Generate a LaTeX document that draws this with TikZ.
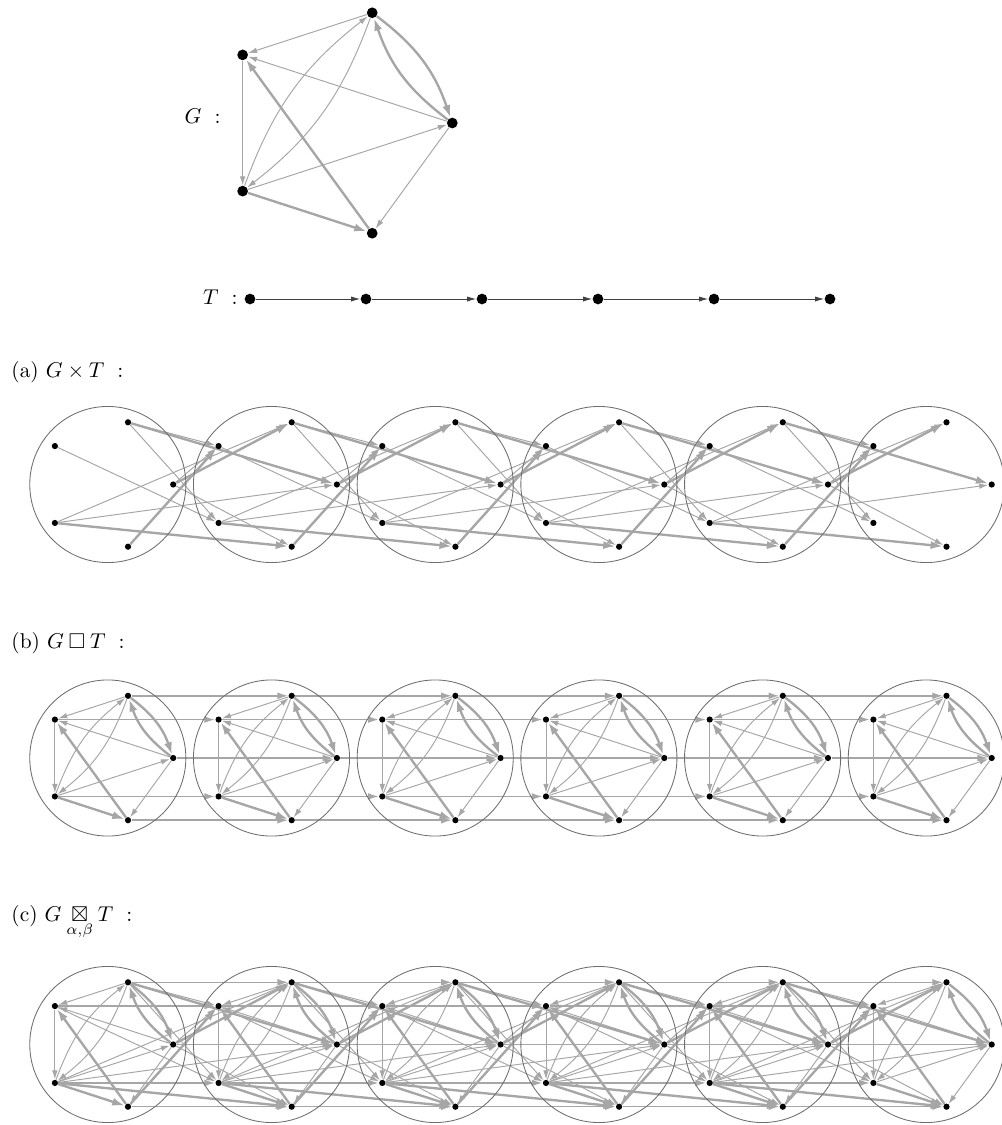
\documentclass[tikz,border=0pt]{standalone}
\usepackage{amsmath}
\usepackage{amssymb}
\usetikzlibrary{arrows.meta, calc, backgrounds}
\definecolor{arcgray}{HTML}{A6A6A6}
\definecolor{ringgray}{HTML}{6E6E6E}
\definecolor{pathgray}{HTML}{404040}

\tikzset{
  bigdot/.style={circle, fill=black, inner sep=0pt, minimum size=5pt},
  smalldot/.style={circle, fill=black, inner sep=0pt, minimum size=2.9pt},
  ring/.style={circle, draw=ringgray, line width=0.4pt, inner sep=0pt, minimum size=72.9pt},
  thinarc/.style={draw=arcgray, line width=0.45pt, -{Latex[length=4.2pt, width=2.6pt]}},
  thickarc/.style={draw=arcgray, line width=1.1pt, -{Latex[length=5.8pt, width=3.8pt]}},
  layerarc/.style={draw=arcgray, line width=0.7pt, -{Latex[length=5pt, width=3.2pt]}},
  patharc/.style={draw=pathgray, line width=0.45pt, -{Latex[length=4.2pt, width=2.4pt]}},
  caption/.style={anchor=base west, inner sep=0pt},
}

% arcs of G, vertex 0 on the right, counted anticlockwise
\newcommand{\gthin}{1/2, 0/2, 2/3, 0/4, 3/0}
\newcommand{\gthick}{4/2, 3/4}
\newcommand{\gallthin}{1/2, 0/2, 2/3, 0/4, 3/0, 1/3, 3/1}
\newcommand{\gallthick}{4/2, 3/4, 1/0, 0/1}

% one copy of G, #1 = prefix of its node names
\newcommand{\drawlayer}[1]{%
  \foreach \p/\q in \gthin {\draw[thinarc] (#1\p) -- (#1\q);}
  \foreach \p/\q in {1/3, 3/1} {\draw[thinarc] (#1\p) to[bend left=16] (#1\q);}
  \foreach \p/\q in {1/0, 0/1} {\draw[thickarc] (#1\p) to[bend left=17] (#1\q);}
  \foreach \p/\q in \gthick {\draw[thickarc] (#1\p) -- (#1\q);}
}
% arcs of G between layer #2 and layer #3
\newcommand{\drawcross}[3]{%
  \foreach \p/\q in \gallthin {\draw[thinarc] (#1-#2-\p) -- (#1-#3-\q);}
  \foreach \p/\q in \gallthick {\draw[thickarc] (#1-#2-\p) -- (#1-#3-\q);}
}
% arcs of T between layer #2 and layer #3
\newcommand{\drawstep}[3]{%
  \foreach \k in {0,...,4} {\draw[layerarc] (#1-#2-\k) -- (#1-#3-\k);}
}

\begin{document}
\begin{tikzpicture}[x=0.467pt, y=0.467pt]
  \useasboundingbox (0,0) rectangle (1002,-1125);

  % G and T
  \foreach \k in {0,...,4}
    \node[bigdot] (g\k) at ($(336.4,-123)+(\k*72:115.9)$) {};
  \node[anchor=base east, inner sep=0pt] (glabel) at (221,-123) {$G\ :$};

  \foreach \i in {0,...,5}
    \node[bigdot] (t\i) at (250+116*\i,-299) {};
  \node[anchor=base east, inner sep=0pt] (tlabel) at (238,-304) {$T\ :$};

  % the three products
  \node[caption] (alabel) at (11,-377) {(a) $G\times T\ :$};
  \node[caption] (blabel) at (11,-648) {(b) $G\mathbin{\square}T\ :$};
  \node[caption] (clabel) at (11,-921) {(c) $G\underset{\alpha,\beta}{\boxtimes}T\ :$};

  \foreach \row/\cy in {a/484.5, b/758, c/1044.5} {
    \foreach \lay in {0,...,5} {
      \node[ring] (\row-\lay) at (107.8+163.7*\lay,-\cy) {};
      \foreach \k in {0,...,4}
        \node[smalldot] (\row-\lay-\k) at ($(\row-\lay)+(\k*72:65.4)$) {};
    }
  }

  \begin{scope}[on background layer]
    \drawlayer{g}
    \foreach \i [count=\j from 1] in {0,...,4}
      \draw[patharc] (t\i) -- (t\j);

    % (a) direct product
    \foreach \lay [count=\nxt from 1] in {0,...,4} {\drawcross{a}{\lay}{\nxt}}

    % (b) cartesian product
    \foreach \lay in {0,...,5} {\drawlayer{b-\lay-}}
    \foreach \lay [count=\nxt from 1] in {0,...,4} {\drawstep{b}{\lay}{\nxt}}

    % (c) strong product
    \foreach \lay in {0,...,5} {\drawlayer{c-\lay-}}
    \foreach \lay [count=\nxt from 1] in {0,...,4} {
      \drawstep{c}{\lay}{\nxt}
      \drawcross{c}{\lay}{\nxt}
    }
  \end{scope}
\end{tikzpicture}
\end{document}
